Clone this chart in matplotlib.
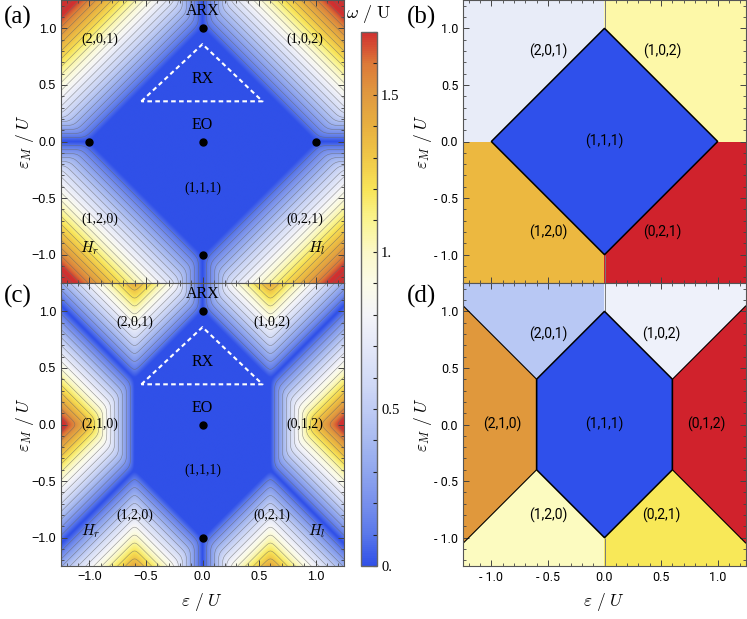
import numpy as np
import matplotlib
matplotlib.use("Agg")
import matplotlib.pyplot as plt
from matplotlib.colors import LinearSegmentedColormap, Normalize, ListedColormap
from matplotlib.ticker import MultipleLocator

plt.rcParams['mathtext.fontset'] = 'cm'
plt.rcParams['axes.unicode_minus'] = True

# charge configurations (n1,n2,n3) and their energies E = a*eps + b*epsM + c  (units of U)
configs = ["(1,1,1)", "(2,0,1)", "(1,0,2)", "(1,2,0)", "(0,2,1)", "(2,1,0)", "(0,1,2)"]
coef_eps = [0, 1, -1, 1, -1, 2, -2]
coef_epsM = [1, 0, 0, 2, 2, 1, 1]
offset_top = [0, 1, 1, 1, 1, 3, 3]        # panels (a),(b)
offset_bot = [0, 1, 1, 1, 1, 1.2, 1.2]    # panels (c),(d)

# region colours of the phase maps
colors_b = ["#2f50eb", "#e8ecf8", "#fdf8a8", "#ecb840", "#d0222c", "#e0983c", "#d0222c"]
colors_d = ["#2f50eb", "#b8c8f4", "#eef1fa", "#fcfbc0", "#f8e858", "#e0983c", "#d0222c"]
outlined = ["(1,1,1)", "(2,1,0)", "(0,1,2)"]
thin_pairs = [("(2,0,1)", "(1,0,2)"), ("(1,2,0)", "(0,2,1)")]

# colour scale of omega/U
cbar_vals = [0.0, 0.1, 0.2, 0.3, 0.4, 0.5, 0.6, 0.7, 0.8, 0.9, 1.0, 1.1, 1.2, 1.3, 1.4, 1.5, 1.6, 1.7]
cbar_cols = ["#3050e8", "#5a78ea", "#7890ec", "#90a6ee", "#a8baf0", "#c0ccf4", "#d4dcf6", "#e4e8f8",
             "#f4f4f8", "#fbfbe8", "#fbf8c8", "#faf490", "#f8e458", "#f0c848", "#e8b040", "#e09a40",
             "#dc7a38", "#d03030"]
cbar_ticks = [0.0, 0.5, 1.0, 1.5]
cbar_ticklabels = ["0.", "0.5", "1.", "1.5"]
# gap value that reaches the top of the colour scale in each map
top_a = 1.36
top_c = 1.0

ticks = [-1.0, -0.5, 0.0, 0.5, 1.0]
ticklabels_ac = ["\u22121.0", "\u22120.5", "0.0", "0.5", "1.0"]
ticklabels_bd = ["- 1.0", "- 0.5", "0.0", "0.5", "1.0"]

# annotations
dots_a_x = [0, 0, 0, -1, 1]
dots_a_y = [1, 0, -1, 0, 0]
dots_c_x = [0, 0, 0]
dots_c_y = [1, 0, -1]
rx_tri_x = [-0.54, 0.0, 0.53, -0.54]
rx_tri_y = [0.355, 0.86, 0.355, 0.355]

labels_a = [("ARX", 0, 1.15, 11.5), ("RX", 0, 0.55, 11.5), ("EO", 0, 0.15, 11.5),
            ("(1,1,1)", 0, -0.41, 10), ("(2,0,1)", -0.91, 0.90, 10), ("(1,0,2)", 0.90, 0.90, 10),
            ("(1,2,0)", -0.91, -0.69, 10), ("(0,2,1)", 0.90, -0.69, 10),
            ("$H_r$", -1.0, -0.94, 11), ("$H_l$", 1.01, -0.94, 11)]
labels_c = [("ARX", 0, 1.15, 11.5), ("RX", 0, 0.55, 11.5), ("EO", 0, 0.15, 11.5),
            ("(1,1,1)", 0, -0.40, 10), ("(2,0,1)", -0.6, 0.905, 10), ("(1,0,2)", 0.61, 0.905, 10),
            ("(2,1,0)", -0.905, 0.0, 10), ("(0,1,2)", 0.90, 0.0, 10),
            ("(1,2,0)", -0.6, -0.80, 10), ("(0,2,1)", 0.61, -0.80, 10),
            ("$H_r$", -0.99, -0.94, 11), ("$H_l$", 1.01, -0.94, 11)]
labels_b = [("(2,0,1)", -0.5, 0.80), ("(1,0,2)", 0.51, 0.80), ("(1,1,1)", 0, 0),
            ("(1,2,0)", -0.5, -0.80), ("(0,2,1)", 0.51, -0.80)]
labels_d = [("(2,0,1)", -0.5, 0.80), ("(1,0,2)", 0.5, 0.80), ("(2,1,0)", -0.9, 0.0),
            ("(1,1,1)", 0, 0), ("(0,1,2)", 0.9, 0.0), ("(1,2,0)", -0.5, -0.80), ("(0,2,1)", 0.5, -0.80)]

lim = 1.25
n = 700
x = np.linspace(-lim, lim, n)
X, Y = np.meshgrid(x, x)


def energies(offset):
    a = np.array(coef_eps, float)[:, None, None]
    b = np.array(coef_epsM, float)[:, None, None]
    c = np.array(offset, float)[:, None, None]
    return a * X + b * Y + c


def gap(offset, tau=0.025):
    E = energies(offset)
    g = np.argmin(E, axis=0)
    dE = E - E.min(axis=0)
    idx = np.arange(len(configs))[:, None, None]
    dE = np.where(idx == g, np.inf, dE)
    w = -tau * np.log(np.exp(-dE / tau).sum(axis=0))
    w = np.where(g == 0, 0.0, w)
    return np.clip(w, 0, None)


cmap = LinearSegmentedColormap.from_list(
    "omega", [(v / cbar_vals[-1], c) for v, c in zip(cbar_vals, cbar_cols)])


def frame(ax, labels, show_x, fam):
    ax.set_xlim(-lim, lim)
    ax.set_ylim(-lim, lim)
    for a in (ax.xaxis, ax.yaxis):
        a.set_minor_locator(MultipleLocator(0.1))
    ax.set_xticks(ticks)
    ax.set_yticks(ticks)
    ax.set_yticklabels(labels, family=fam, fontsize=9)
    if show_x:
        ax.set_xticklabels(labels, family=fam, fontsize=9)
    else:
        ax.set_xticklabels([])
    ax.tick_params(which='both', direction='in', top=True, right=True, color='#444444')
    ax.tick_params(which='major', length=4.5, width=0.7)
    ax.tick_params(which='minor', length=2.5, width=0.6)
    for s in ax.spines.values():
        s.set_color('#555555')
        s.set_linewidth(0.8)
    ax.set_ylabel(r"$\varepsilon_M\ /\ U$", fontsize=12.5)
    ax.yaxis.label.set_va('center')
    if show_x:
        ax.set_xlabel(r"$\varepsilon\ /\ U$", fontsize=12.5)
        ax.xaxis.label.set_va('center')


def gap_panel(ax, offset, top, dx, dy, labels):
    w = gap(offset)
    ax.imshow(w, extent=(-lim, lim, -lim, lim), origin='lower', cmap=cmap,
              norm=Normalize(0, top, clip=True), interpolation='bilinear', aspect='auto')
    ax.contour(X, Y, w, levels=np.arange(0.07, w.max(), 0.07), colors='#666666',
               linewidths=0.4, alpha=0.7)
    ax.plot(rx_tri_x, rx_tri_y, color='white', lw=1.5, ls=(0, (2.2, 1.6)))
    ax.plot(dx, dy, 'o', color='black', ms=5)
    for t, tx, ty, fs in labels:
        ax.text(tx, ty, t, ha='center', va='center', fontsize=fs, family='Liberation Serif')


def phase_panel(ax, offset, cols, labels):
    E = energies(offset)
    g = np.argmin(E, axis=0)
    ax.imshow(g, extent=(-lim, lim, -lim, lim), origin='lower', cmap=ListedColormap(cols),
              vmin=-0.5, vmax=len(cols) - 0.5, interpolation='nearest', aspect='auto')
    for p, q in thin_pairs:
        i, j = configs.index(p), configs.index(q)
        f = np.ma.masked_where((g != i) & (g != j), E[i] - E[j])
        ax.contour(X, Y, f, levels=[0], colors='#7a7a7a', linewidths=0.7)
    for name in outlined:
        k = configs.index(name)
        f = E[k] - np.delete(E, k, axis=0).min(axis=0)
        if f.min() < 0 < f.max():
            ax.contour(X, Y, f, levels=[0], colors='black', linewidths=1.1 if k == 0 else 0.8)
    for t, tx, ty in labels:
        ax.text(tx, ty, t, ha='center', va='center', fontsize=10, family='Roboto')


fig = plt.figure(figsize=(7.47, 6.19), dpi=100)
W, H = 747.0, 619.0


def box(x0, y0, w, h):
    return [x0 / W, 1 - (y0 + h) / H, w / W, h / H]


ax_a = fig.add_axes(box(61, 0, 283, 283))
ax_c = fig.add_axes(box(61, 283, 283, 283))
ax_b = fig.add_axes(box(463, 0, 283, 283))
ax_d = fig.add_axes(box(463, 283, 283, 283))
cax = fig.add_axes(box(361, 32, 16, 534))

gap_panel(ax_a, offset_top, top_a, dots_a_x, dots_a_y, labels_a)
gap_panel(ax_c, offset_bot, top_c, dots_c_x, dots_c_y, labels_c)
phase_panel(ax_b, offset_top, colors_b, labels_b)
phase_panel(ax_d, offset_bot, colors_d, labels_d)

frame(ax_a, ticklabels_ac, False, 'Liberation Sans')
frame(ax_c, ticklabels_ac, True, 'Liberation Sans')
frame(ax_b, ticklabels_bd, False, 'Roboto')
frame(ax_d, ticklabels_bd, True, 'Roboto')
for ax in (ax_a, ax_c):
    ax.yaxis.set_label_coords(-0.128, 0.5)
for ax in (ax_b, ax_d):
    ax.yaxis.set_label_coords(-0.14, 0.5)
for ax in (ax_c, ax_d):
    ax.xaxis.set_label_coords(0.5, -0.128)

# colour bar
sm = plt.cm.ScalarMappable(norm=Normalize(0, cbar_vals[-1]), cmap=cmap)
cb = fig.colorbar(sm, cax=cax)
cb.set_ticks(cbar_ticks)
cb.set_ticklabels(cbar_ticklabels)
cb.ax.yaxis.set_minor_locator(MultipleLocator(0.1))
cb.ax.tick_params(which='both', direction='in', labelsize=10.5, color='#222222', pad=3)
cb.ax.tick_params(which='major', length=3, width=0.8)
cb.ax.tick_params(which='minor', length=3, width=0.8)
for t in cb.ax.get_yticklabels():
    t.set_family('Liberation Serif')
cb.outline.set_edgecolor('#666666')
cb.outline.set_linewidth(1.0)
fig.text(369 / W, 1 - 14 / H, r"$\omega\ /\ \mathrm{U}$", ha='center', va='center', fontsize=13)

for lab, px, py in [("(a)", 18, 17), ("(b)", 421, 17), ("(c)", 18, 296), ("(d)", 421, 296)]:
    fig.text(px / W, 1 - py / H, lab, ha='center', va='center', fontsize=18, family='Liberation Serif')

fig.savefig("out.png", dpi=100)
